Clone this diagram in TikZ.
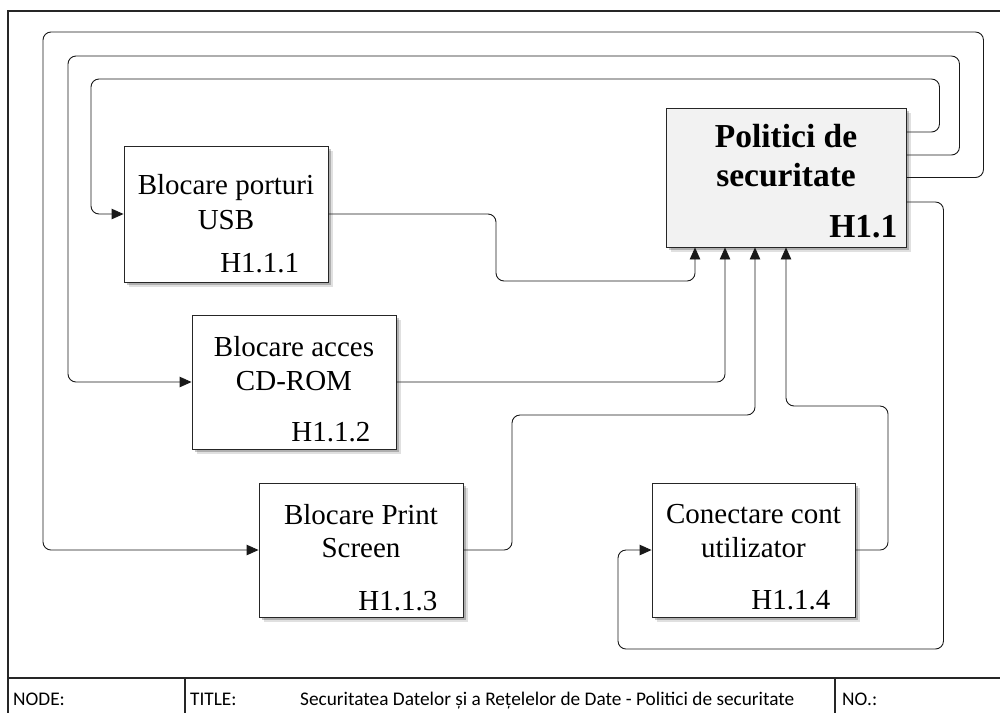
\documentclass[tikz,border=0pt]{standalone}
\usepackage{fontspec}
\setmainfont{Liberation Serif}
\newfontfamily\footfont{Carlito}
\usetikzlibrary{arrows.meta,shadows}

\begin{document}
\begin{tikzpicture}[x=1pt,y=-1pt,
  frameline/.style={draw=black!85, line width=1.1pt},
  task/.style={draw=black!85, line width=0.9pt, fill=white, inner sep=0pt,
    drop shadow={shadow xshift=4.5pt, shadow yshift=-4.5pt, fill=black, opacity=0.12},
    drop shadow={shadow xshift=2.5pt, shadow yshift=-2.5pt, fill=black, opacity=0.22}},
  goal/.style={task, fill=black!5},
  tasktext/.style={inner sep=0pt, anchor=base, font=\fontsize{29}{34}\selectfont},
  taskid/.style={inner sep=0pt, anchor=base east, font=\fontsize{29}{34}\selectfont},
  goaltext/.style={inner sep=0pt, anchor=base, font=\fontsize{33.5}{39}\selectfont\bfseries},
  goalid/.style={inner sep=0pt, anchor=base east, font=\fontsize{33.5}{39}\selectfont\bfseries},
  foottext/.style={inner sep=0pt, anchor=base west, font=\footfont\fontsize{19.3}{23}\selectfont},
  flow/.style={draw=black!90, line width=0.9pt, rounded corners=8pt,
    -{Triangle[length=12pt,width=10.5pt]}},
]
\useasboundingbox (0,0) rectangle (1000,713);

% drawing frame and title block
\draw[frameline] (1000,11) -- (8,11) -- (8,713);
\draw[frameline] (8,678) -- (1000,678);
\coordinate (fa) at (185,678);
\coordinate (fb) at (835,678);
\draw[frameline] (fa) -- ++(0,35);
\draw[frameline] (fb) -- ++(0,35);
\node[foottext] (fnode) at (13,705) {NODE:};
\node[foottext] (ftitle) at (190,705) {TITLE:};
\node[foottext] (fname) at (300,705) {Securitatea Datelor și a Rețelelor de Date - Politici de securitate};
\node[foottext] (fno) at (842,705) {NO.:};

% parent activity
\node[goal, minimum width=240pt, minimum height=139pt] (main) at (786,177.5) {};
\node[goaltext] (main-l1) at ([yshift=-40pt]main.north) {Politici de};
\node[goaltext] (main-l2) at ([yshift=-79pt]main.north) {securitate};
\node[goalid] (main-id) at ([xshift=-9pt, yshift=10pt]main.south east) {H1.1};

% child activities
\node[task, minimum width=204pt, minimum height=136pt] (usb) at (226,214) {};
\node[tasktext] (usb-l1) at ([yshift=-49pt]usb.north) {Blocare porturi};
\node[tasktext] (usb-l2) at ([yshift=-84pt]usb.north) {USB};
\node[taskid] (usb-id) at ([xshift=-29pt, yshift=10pt]usb.south east) {H1.1.1};

\node[task, minimum width=204pt, minimum height=134pt] (cd) at (294,382) {};
\node[tasktext] (cd-l1) at ([yshift=-42pt]cd.north) {Blocare acces};
\node[tasktext] (cd-l2) at ([yshift=-76pt]cd.north) {CD-ROM};
\node[taskid] (cd-id) at ([xshift=-26pt, yshift=8pt]cd.south east) {H1.1.2};

\node[task, minimum width=204pt, minimum height=134pt] (print) at (361,550) {};
\node[tasktext] (print-l1) at ([yshift=-42pt]print.north) {Blocare Print};
\node[tasktext] (print-l2) at ([yshift=-75pt]print.north) {Screen};
\node[taskid] (print-id) at ([xshift=-26pt, yshift=7pt]print.south east) {H1.1.3};

\node[task, minimum width=203pt, minimum height=134pt] (con) at (753.5,550) {};
\node[tasktext] (con-l1) at ([yshift=-41pt]con.north) {Conectare cont};
\node[tasktext] (con-l2) at ([yshift=-75pt]con.north) {utilizator};
\node[taskid] (con-id) at ([xshift=-25pt, yshift=8pt]con.south east) {H1.1.4};

% feedback loops leaving the parent on the right
\draw[flow] ([yshift=45.5pt]main.east) -- ++(33,0) |- (91,79) |- (usb.west);
\draw[flow] ([yshift=22.5pt]main.east) -- ++(53,0) |- (68,56) |- (cd.west);
\draw[flow] (main.east) -- ++(77,0) |- (43,32) |- (print.west);
\draw[flow] ([yshift=-24.5pt]main.east) -- ++(37,0) |- (618,649) |- (con.west);

% outputs feeding the parent from below
\draw[flow] (usb.east) -| (496,281) -| ([xshift=-91pt]main.south);
\draw[flow] (cd.east) -| ([xshift=-61pt]main.south);
\draw[flow] (print.east) -| (512,415) -| ([xshift=-31pt]main.south);
\draw[flow] (con.east) -| (888,406) -| (main.south);
\end{tikzpicture}
\end{document}
